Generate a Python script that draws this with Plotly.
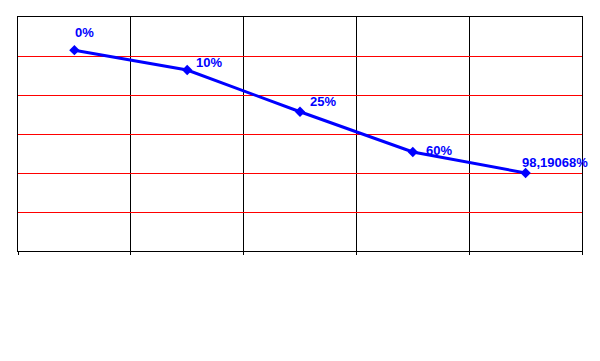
import plotly.graph_objects as go

x_pos = [0, 1, 2, 3, 4]
values = [5.15, 4.64, 3.57, 2.54, 2.0]
labels = ["0%", "10%", "25%", "60%", "98,19068%"]
label_dx = [10.5, 21.5, 22.5, 26.5, 29.5]
label_dy = [18, 8, 10, 1, 11]

fig = go.Figure()
fig.add_trace(go.Scatter(
    x=x_pos, y=values, mode="lines+markers",
    line=dict(color="#0000FF", width=3),
    marker=dict(symbol="diamond", size=8, color="#0000FF"),
    showlegend=False, hoverinfo="skip",
))
for xv, yv, t, dx, dy in zip(x_pos, values, labels, label_dx, label_dy):
    fig.add_annotation(x=xv, y=yv, text=f"<b>{t}</b>", showarrow=False,
                       xshift=dx, yshift=dy,
                       font=dict(family="Liberation Sans, Arial", size=13, color="#0000FF"))

fig.update_layout(
    width=600, height=361,
    margin=dict(l=18, r=18, t=17, b=110, pad=0),
    paper_bgcolor="white", plot_bgcolor="white",
    xaxis=dict(range=[-0.5, 4.5], tickvals=[-0.5, 0.5, 1.5, 2.5, 3.5, 4.5],
               showticklabels=False, ticks="outside", ticklen=3, tickcolor="black",
               showgrid=True, gridcolor="black", gridwidth=1,
               showline=True, linecolor="black", linewidth=1, mirror=True,
               zeroline=False, fixedrange=True),
    yaxis=dict(range=[0, 6], dtick=1, showticklabels=False, ticks="",
               showgrid=True, gridcolor="#FF0000", gridwidth=1,
               showline=True, linecolor="black", linewidth=1, mirror=True,
               zeroline=False, fixedrange=True),
)
fig.write_html("out.html")
